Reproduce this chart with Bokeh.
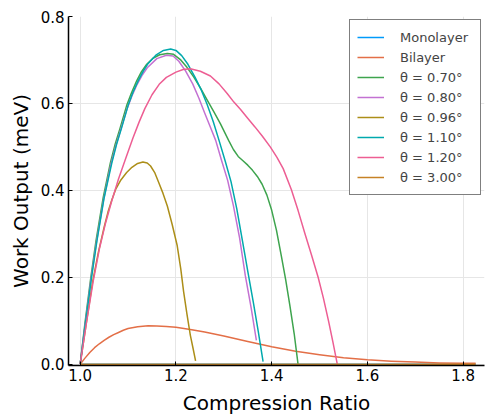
from bokeh.plotting import figure
from bokeh.models import FixedTicker, PrintfTickFormatter, Range1d
from bokeh.embed import file_html
from bokeh.resources import INLINE

# ---------------- data ----------------
x_ticks = [1.0, 1.2, 1.4, 1.6, 1.8]
y_ticks = [0.0, 0.2, 0.4, 0.6, 0.8]

series_labels = ["Monolayer", "Bilayer", "θ = 0.70°", "θ = 0.80°",
                 "θ = 0.96°", "θ = 1.10°", "θ = 1.20°", "θ = 3.00°"]
series_colors = ["#009AFA", "#E36F47", "#3EA44E", "#C371D2",
                 "#AC8E18", "#00A9AD", "#ED5E93", "#C68225"]

mono_x = [1.0, 1.1, 1.2, 1.3, 1.4, 1.5, 1.6, 1.7, 1.8, 1.826]
mono_y = [0.0, 0.0, 0.0, 0.0, 0.0, 0.0, 0.0, 0.0, 0.0, 0.0]

bi_x = [1.000, 1.010, 1.020, 1.030, 1.040, 1.050, 1.060, 1.070, 1.080, 1.090, 1.100,
        1.120, 1.142, 1.160, 1.180, 1.200, 1.230, 1.260, 1.300, 1.350, 1.400, 1.450,
        1.500, 1.550, 1.600, 1.650, 1.700, 1.750, 1.800, 1.826]
bi_y = [0.000, 0.014, 0.027, 0.038, 0.047, 0.055, 0.062, 0.068, 0.073, 0.078, 0.082,
        0.086, 0.0884, 0.088, 0.087, 0.085, 0.080, 0.074, 0.065, 0.052, 0.040, 0.030,
        0.022, 0.015, 0.010, 0.007, 0.005, 0.003, 0.002, 0.002]

t070_x = [1.000, 1.010, 1.022, 1.033, 1.048, 1.063, 1.073, 1.083, 1.097, 1.107, 1.118,
          1.128, 1.139, 1.152, 1.166, 1.182, 1.195, 1.210, 1.223, 1.237, 1.251, 1.265,
          1.279, 1.293, 1.310, 1.320, 1.330, 1.340, 1.350, 1.360, 1.370, 1.380, 1.390,
          1.400, 1.410, 1.420, 1.429, 1.438, 1.447, 1.455]
t070_y = [0.000, 0.095, 0.198, 0.284, 0.383, 0.463, 0.506, 0.542, 0.595, 0.624, 0.652,
          0.673, 0.690, 0.704, 0.712, 0.715, 0.713, 0.700, 0.683, 0.661, 0.636, 0.608,
          0.581, 0.553, 0.515, 0.494, 0.478, 0.468, 0.458, 0.446, 0.432, 0.414, 0.389,
          0.354, 0.308, 0.250, 0.196, 0.135, 0.070, 0.000]

t080_x = [1.000, 1.0105, 1.0225, 1.034, 1.049, 1.064, 1.074, 1.084, 1.098, 1.108, 1.119,
          1.130, 1.140, 1.160, 1.180, 1.194, 1.206, 1.220, 1.235, 1.248, 1.260, 1.272,
          1.283, 1.295, 1.308, 1.320, 1.333, 1.345, 1.357, 1.368]
t080_y = [0.000, 0.093, 0.195, 0.281, 0.379, 0.459, 0.501, 0.537, 0.588, 0.617, 0.644,
          0.666, 0.682, 0.703, 0.711, 0.709, 0.697, 0.675, 0.645, 0.612, 0.578, 0.545,
          0.515, 0.470, 0.423, 0.365, 0.290, 0.203, 0.130, 0.055]

t096_x = [1.000, 1.013, 1.026, 1.038, 1.050, 1.058, 1.066, 1.074, 1.085, 1.097, 1.108,
          1.120, 1.131, 1.140, 1.147, 1.156, 1.164, 1.173, 1.182, 1.192, 1.2026, 1.210,
          1.216, 1.223, 1.230, 1.236, 1.241]
t096_y = [0.000, 0.096, 0.190, 0.258, 0.315, 0.350, 0.378, 0.402, 0.424, 0.441, 0.453,
          0.462, 0.465, 0.463, 0.456, 0.440, 0.418, 0.393, 0.364, 0.322, 0.273, 0.220,
          0.167, 0.115, 0.067, 0.035, 0.0075]

t110_x = [1.000, 1.011, 1.0235, 1.035, 1.050, 1.066, 1.076, 1.086, 1.100, 1.110, 1.121,
          1.132, 1.142, 1.158, 1.174, 1.189, 1.200, 1.212, 1.225, 1.240, 1.252, 1.265,
          1.278, 1.290, 1.303, 1.315, 1.327, 1.339, 1.351, 1.362, 1.372, 1.382]
t110_y = [0.000, 0.095, 0.198, 0.284, 0.383, 0.463, 0.506, 0.542, 0.595, 0.625, 0.652,
          0.675, 0.692, 0.711, 0.722, 0.725, 0.722, 0.710, 0.690, 0.660, 0.633, 0.598,
          0.558, 0.515, 0.467, 0.420, 0.358, 0.283, 0.208, 0.140, 0.075, 0.006]

t120_x = [1.000, 1.013, 1.027, 1.040, 1.053, 1.066, 1.080, 1.095, 1.110, 1.123, 1.135,
          1.150, 1.165, 1.180, 1.200, 1.215, 1.230, 1.251, 1.272, 1.290, 1.307, 1.321,
          1.335, 1.349, 1.365, 1.381, 1.397, 1.411, 1.424, 1.441, 1.455, 1.469, 1.483,
          1.497, 1.508, 1.519, 1.528, 1.537]
t120_y = [0.000, 0.095, 0.190, 0.265, 0.325, 0.376, 0.426, 0.473, 0.520, 0.557, 0.588,
          0.620, 0.644, 0.660, 0.672, 0.678, 0.680, 0.674, 0.663, 0.645, 0.623, 0.603,
          0.586, 0.567, 0.546, 0.524, 0.500, 0.476, 0.450, 0.402, 0.354, 0.302, 0.252,
          0.200, 0.152, 0.098, 0.050, 0.000]

t300_x = [1.0, 1.1, 1.2, 1.3, 1.4, 1.5, 1.6, 1.7, 1.8, 1.826]
t300_y = [0.0, 0.0, 0.0, 0.0, 0.0, 0.0, 0.0, 0.0, 0.0, 0.0]

all_x = [mono_x, bi_x, t070_x, t080_x, t096_x, t110_x, t120_x, t300_x]
all_y = [mono_y, bi_y, t070_y, t080_y, t096_y, t110_y, t120_y, t300_y]

# ---------------- figure ----------------
FONT = "DejaVu Sans"
p = figure(width=485, height=417, output_backend="svg", toolbar_location=None,
           x_range=Range1d(0.97556, 1.8445), y_range=Range1d(-0.003, 0.8),
           min_border_left=68, min_border_right=1, min_border_top=16, min_border_bottom=50)
p.outline_line_color = None
p.background_fill_color = "white"
p.border_fill_color = "white"

for xs, ys, lab, col in zip(all_x, all_y, series_labels, series_colors):
    p.line(xs, ys, line_color=col, line_width=1.5, legend_label=lab,
           line_join="round")

for ax in (p.xaxis[0], p.yaxis[0]):
    ax.axis_line_color = "black"
    ax.axis_line_width = 1.5
    ax.major_tick_in = 4
    ax.major_tick_out = 0
    ax.major_tick_line_color = "black"
    ax.minor_tick_line_color = None
    ax.major_label_text_font = FONT
    ax.major_label_text_font_size = "15px"
    ax.major_label_text_color = "black"
    ax.axis_label_text_font = FONT
    ax.axis_label_text_font_size = "20px"
    ax.axis_label_text_font_style = "normal"
    ax.axis_label_text_color = "black"
    ax.formatter = PrintfTickFormatter(format="%.1f")

p.xaxis.ticker = FixedTicker(ticks=x_ticks)
p.yaxis.ticker = FixedTicker(ticks=y_ticks)
p.xaxis.axis_label = "Compression Ratio"
p.yaxis.axis_label = "Work Output (meV)"
p.xaxis.major_label_standoff = 3
p.xaxis.axis_label_standoff = 7
p.yaxis.major_label_standoff = 4
p.yaxis.axis_label_standoff = 5

for g in (p.xgrid[0], p.ygrid[0]):
    g.grid_line_color = "#e6e6e6"
    g.grid_line_width = 1

lg = p.legend[0]
lg.location = (281, 170)
lg.margin = 0
lg.padding = 7
lg.spacing = 0
lg.label_height = 20
lg.glyph_height = 20
lg.glyph_width = 27
lg.label_standoff = 16
lg.label_width = 73
lg.label_text_font = FONT
lg.label_text_font_size = "13px"
lg.border_line_color = "black"
lg.border_line_width = 1.5
lg.background_fill_color = "white"
lg.background_fill_alpha = 1.0

open("out.html", "w").write(file_html(p, INLINE))
